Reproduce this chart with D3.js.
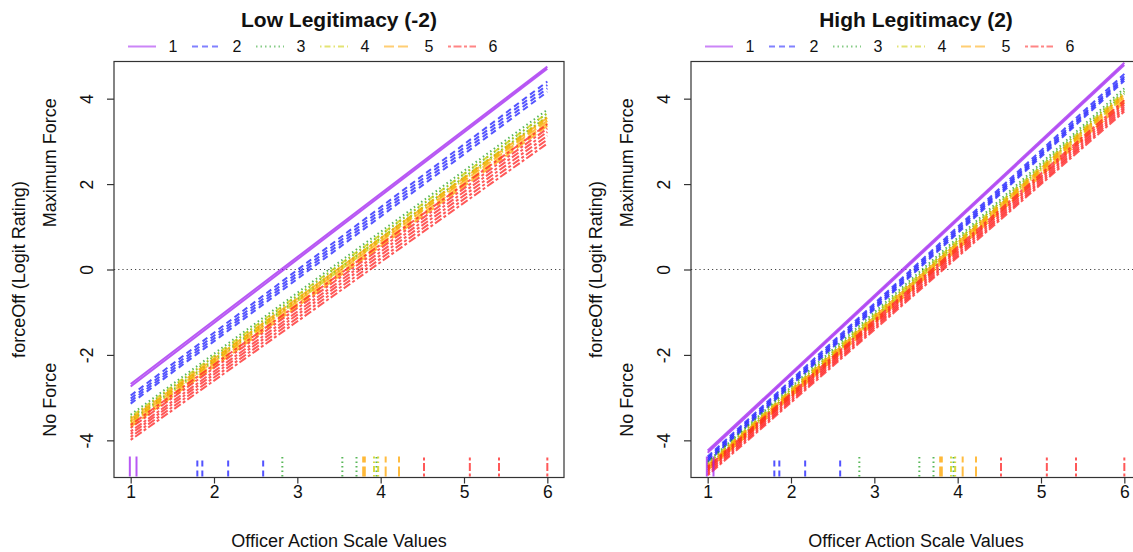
<!DOCTYPE html>
<html>
<head>
<meta charset="utf-8">
<script src="https://cdn.jsdelivr.net/npm/d3@7"></script>
<style>
  body { margin: 0; background: #fff; }
  svg { display: block; font-family: "Liberation Sans", Arial, sans-serif; }
</style>
</head>
<body>
<div id="chart"></div>
<script>
const chartWidth = 1133;
const chartHeight = 552;

const panelTitles = ["Low Legitimacy (-2)", "High Legitimacy (2)"];
const groupNames = ["1", "2", "3", "4", "5", "6"];
const xTicks = [1, 2, 3, 4, 5, 6];
const yTicks = [-4, -2, 0, 2, 4];

// one entry per fitted line: group, value at x = 1 and at x = 6
const lineGroup = [1, 1, 2, 2, 2, 2, 3, 3, 3, 4, 4, 4, 5, 5, 5, 5, 6, 6, 6, 6, 6, 6];
const lowAt1 = [-2.68, -2.74, -2.95, -3.02, -3.08, -3.14, -3.40, -3.47, -3.55, -3.45, -3.52, -3.58,
  -3.50, -3.56, -3.62, -3.68, -3.64, -3.71, -3.79, -3.85, -3.92, -3.99];
const lowAt6 = [4.75, 4.70, 4.40, 4.32, 4.24, 4.16, 3.74, 3.66, 3.58, 3.66, 3.58, 3.52,
  3.55, 3.48, 3.42, 3.36, 3.40, 3.30, 3.22, 3.13, 3.04, 2.95];
const highAt1 = [-4.24, -4.29, -4.38, -4.42, -4.46, -4.50, -4.50, -4.55, -4.60, -4.55, -4.60, -4.64,
  -4.58, -4.62, -4.66, -4.70, -4.62, -4.66, -4.70, -4.74, -4.78, -4.82];
const highAt6 = [4.84, 4.79, 4.58, 4.52, 4.47, 4.42, 4.24, 4.18, 4.12, 4.16, 4.10, 4.05,
  4.10, 4.04, 3.98, 3.92, 3.96, 3.90, 3.85, 3.80, 3.75, 3.70];

// item scale values shown as a rug
const rugGroup = [1, 1, 2, 2, 2, 2, 3, 3, 3, 3, 4, 4, 5, 5, 5, 5, 6, 6, 6, 6];
const rugValues = [0.99, 1.07, 1.80, 1.86, 2.17, 2.59, 2.82, 3.54, 3.71, 3.95, 3.92, 3.97,
  3.79, 3.81, 4.06, 4.22, 4.52, 5.07, 5.42, 6.0];

const groupColors = ["#a020f0", "#1a1aff", "#22a022", "#cccc00", "#ffa500", "#ff2020"];
const groupDash = ["", "6,4", "1.5,3", "1.5,3,6,3", "10,4", "3,2.5,8,2.5"];

const panelAt1 = [lowAt1, highAt1];
const panelAt6 = [lowAt6, highAt6];

const svg = d3
  .select("#chart")
  .append("svg")
  .attr("width", chartWidth)
  .attr("height", chartHeight);

const boxTop = 61.5;
const boxBottom = 477.5;
const boxWidth = 450;
const panelLeft = [114, 691];
const fontStack = "Liberation Sans, Arial, sans-serif";

const y = d3.scaleLinear().domain([-4.87, 4.87]).range([boxBottom, boxTop]);

panelTitles.forEach((title, p) => {
  const left = panelLeft[p];
  const right = left + boxWidth;
  const mid = (left + right) / 2;
  const x = d3.scaleLinear().domain([0.8, 6.2]).range([left, right]);
  const g = svg.append("g");

  // zero reference
  g.append("line")
    .attr("x1", left)
    .attr("x2", right)
    .attr("y1", y(0))
    .attr("y2", y(0))
    .attr("stroke", "#444")
    .attr("stroke-width", 1.2)
    .attr("stroke-dasharray", "1.2,3");

  // fitted lines
  const lines = lineGroup.map((grp, i) => ({
    grp,
    a: panelAt1[p][i],
    b: panelAt6[p][i],
  }));

  g.selectAll("line.fit")
    .data(lines)
    .join("line")
    .attr("class", "fit")
    .attr("x1", x(1))
    .attr("x2", x(6))
    .attr("y1", (d) => y(d.a))
    .attr("y2", (d) => y(d.b))
    .attr("stroke", (d) => groupColors[d.grp - 1])
    .attr("stroke-opacity", 0.75)
    .attr("stroke-width", 2)
    .attr("stroke-dasharray", (d) => groupDash[d.grp - 1]);

  // rug
  g.selectAll("line.rug")
    .data(rugValues.map((v, i) => ({ v, grp: rugGroup[i] })))
    .join("line")
    .attr("class", "rug")
    .attr("x1", (d) => x(d.v))
    .attr("x2", (d) => x(d.v))
    .attr("y1", boxBottom - 1)
    .attr("y2", boxBottom - 21)
    .attr("stroke", (d) => groupColors[d.grp - 1])
    .attr("stroke-opacity", 0.75)
    .attr("stroke-width", 2)
    .attr("stroke-dasharray", (d) => groupDash[d.grp - 1]);

  // box
  g.append("rect")
    .attr("x", left)
    .attr("y", boxTop)
    .attr("width", boxWidth)
    .attr("height", boxBottom - boxTop)
    .attr("fill", "none")
    .attr("stroke", "#333")
    .attr("stroke-width", 1.2);

  // x axis
  const xAxis = g
    .append("g")
    .attr("transform", `translate(0,${boxBottom})`)
    .call(
      d3.axisBottom(x).tickValues(xTicks).tickSize(6).tickPadding(2).tickFormat((d) => String(d)),
    );
  xAxis.select(".domain").remove();
  xAxis.selectAll("line").attr("stroke", "#333").attr("stroke-width", 1.2);
  xAxis.selectAll("text").attr("font-size", 17.5).attr("fill", "#111").style("font-family", fontStack);

  // y axis, labels parallel to the axis
  const yAxis = g
    .append("g")
    .attr("transform", `translate(${left},0)`)
    .call(d3.axisLeft(y).tickValues(yTicks).tickSize(7).tickFormat((d) => String(d)));
  yAxis.select(".domain").remove();
  yAxis.selectAll("line").attr("stroke", "#333").attr("stroke-width", 1.2);
  yAxis
    .selectAll("text")
    .attr("transform", "rotate(-90)")
    .attr("x", 0)
    .attr("y", -21)
    .attr("dy", 0)
    .attr("text-anchor", "middle")
    .attr("font-size", 17.5)
    .attr("fill", "#111")
    .style("font-family", fontStack);

  // titles and axis labels
  g.append("text")
    .attr("x", mid)
    .attr("y", 27)
    .attr("text-anchor", "middle")
    .attr("font-size", 21)
    .attr("font-weight", "bold")
    .attr("fill", "#111")
    .text(title);

  g.append("text")
    .attr("x", mid)
    .attr("y", 547)
    .attr("text-anchor", "middle")
    .attr("font-size", 18)
    .attr("fill", "#111")
    .text("Officer Action Scale Values");

  const sideLabels = [
    { text: "forceOff (Logit Rating)", dx: 95, at: 0 },
    { text: "Maximum Force", dx: 64, at: 2.5 },
    { text: "No Force", dx: 64, at: -3.05 },
  ];
  sideLabels.forEach((s) => {
    g.append("text")
      .attr("transform", `translate(${left - s.dx},${y(s.at)}) rotate(-90)`)
      .attr("text-anchor", "middle")
      .attr("dominant-baseline", "central")
      .attr("font-size", 18)
      .attr("fill", "#111")
      .text(s.text);
  });

  // legend
  const legend = g
    .selectAll("g.legend")
    .data(groupNames)
    .join("g")
    .attr("class", "legend")
    .attr("transform", (d, i) => `translate(${left + 14 + i * 64},46.5)`);

  legend
    .append("line")
    .attr("x1", 0)
    .attr("x2", 28)
    .attr("stroke", (d, i) => groupColors[i])
    .attr("stroke-opacity", 0.55)
    .attr("stroke-width", 2)
    .attr("stroke-dasharray", (d, i) => groupDash[i]);

  legend
    .append("text")
    .attr("x", 45)
    .attr("text-anchor", "middle")
    .attr("dominant-baseline", "central")
    .attr("font-size", 16)
    .attr("fill", "#111")
    .text((d) => d);
});
</script>
</body>
</html>
